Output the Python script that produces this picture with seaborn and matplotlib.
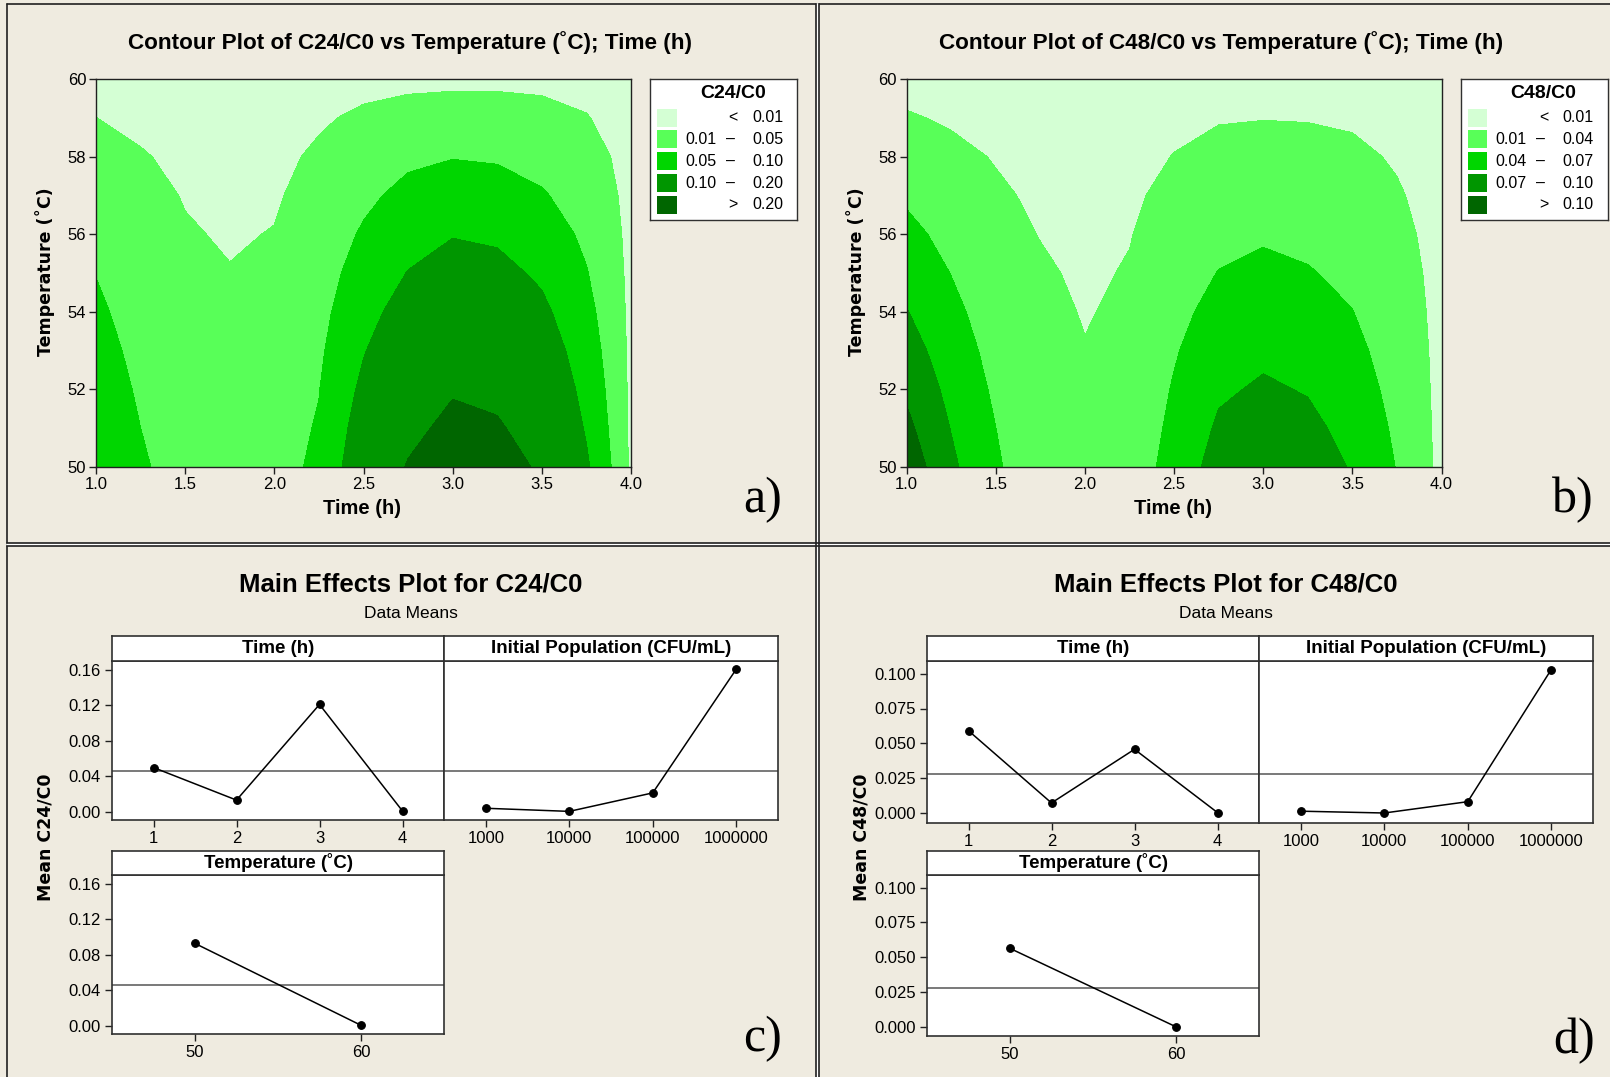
import numpy as np
import pandas as pd
import matplotlib
matplotlib.use("Agg")
import matplotlib.pyplot as plt
import seaborn as sns
from matplotlib.patches import Rectangle
from matplotlib.lines import Line2D
from matplotlib.ticker import FormatStrFormatter, FixedLocator

# ---------------- data ----------------
TIME_GRID = [1.0, 1.25, 1.5, 1.75, 2.0, 2.25, 2.5, 2.75, 3.0, 3.25, 3.5, 3.75, 4.0]
TEMP_GRID = [50, 51, 52, 53, 54, 55, 56, 57, 58, 59, 60]

# estimated response surface, one row per time value (temperatures 50..60)
C24_GRID = [
    [0.090, 0.0818, 0.0737, 0.0655, 0.0573, 0.0490, 0.0393, 0.0295, 0.0198, 0.0101, 0.004],
    [0.056, 0.0501, 0.0445, 0.0390, 0.0334, 0.0279, 0.0224, 0.0169, 0.0114, 0.0059, 0.003],
    [0.030, 0.0270, 0.0240, 0.0209, 0.0179, 0.0148, 0.0118, 0.0088, 0.0060, 0.0040, 0.002],
    [0.025, 0.0222, 0.0193, 0.0165, 0.0136, 0.0108, 0.0080, 0.0060, 0.0040, 0.0030, 0.002],
    [0.035, 0.0310, 0.0269, 0.0229, 0.0189, 0.0148, 0.0108, 0.0075, 0.0050, 0.0030, 0.002],
    [0.058, 0.0536, 0.0488, 0.0429, 0.0370, 0.0310, 0.0251, 0.0192, 0.0133, 0.0073, 0.003],
    [0.139, 0.1250, 0.1110, 0.0972, 0.0830, 0.0690, 0.0549, 0.0411, 0.0275, 0.0138, 0.003],
    [0.205, 0.1820, 0.1620, 0.1420, 0.1217, 0.1016, 0.0818, 0.0619, 0.0417, 0.0208, 0.003],
    [0.240, 0.2180, 0.1940, 0.1700, 0.1460, 0.1217, 0.0975, 0.0729, 0.0483, 0.0230, 0.004],
    [0.231, 0.2076, 0.1845, 0.1613, 0.1382, 0.1150, 0.0919, 0.0686, 0.0454, 0.0226, 0.004],
    [0.190, 0.1700, 0.1505, 0.1307, 0.1109, 0.0915, 0.0726, 0.0538, 0.0358, 0.0180, 0.004],
    [0.108, 0.0947, 0.0840, 0.0734, 0.0628, 0.0521, 0.0418, 0.0315, 0.0213, 0.0110, 0.003],
    [0.0037, 0.0033, 0.0030, 0.0027, 0.0023, 0.0020, 0.0017, 0.0012, 0.0005, 0.0003, 0.0002],
]
C48_GRID = [
    [0.119, 0.1070, 0.0952, 0.0832, 0.0712, 0.0594, 0.0477, 0.0358, 0.0239, 0.0120, 0.002],
    [0.076, 0.0690, 0.0616, 0.0542, 0.0468, 0.0394, 0.0314, 0.0234, 0.0154, 0.0074, 0.002],
    [0.0415, 0.0401, 0.0355, 0.0310, 0.0266, 0.0221, 0.0176, 0.0131, 0.0087, 0.0050, 0.002],
    [0.032, 0.0282, 0.0244, 0.0206, 0.0168, 0.0130, 0.0093, 0.0065, 0.0045, 0.0030, 0.002],
    [0.025, 0.0205, 0.0160, 0.0110, 0.0085, 0.0065, 0.0050, 0.0040, 0.0030, 0.0020, 0.0015],
    [0.025, 0.0223, 0.0196, 0.0170, 0.0143, 0.0116, 0.0090, 0.0065, 0.0045, 0.0030, 0.002],
    [0.050, 0.0461, 0.0422, 0.0376, 0.0322, 0.0268, 0.0214, 0.0160, 0.0105, 0.0060, 0.003],
    [0.083, 0.0742, 0.0658, 0.0575, 0.0492, 0.0408, 0.0327, 0.0247, 0.0166, 0.0085, 0.003],
    [0.092, 0.0829, 0.0737, 0.0645, 0.0553, 0.0461, 0.0369, 0.0277, 0.0186, 0.0094, 0.003],
    [0.0859, 0.0771, 0.0682, 0.0594, 0.0506, 0.0418, 0.0335, 0.0254, 0.0172, 0.0090, 0.003],
    [0.0678, 0.0610, 0.0542, 0.0473, 0.0405, 0.0339, 0.0273, 0.0206, 0.0140, 0.0075, 0.003],
    [0.0388, 0.0350, 0.0311, 0.0273, 0.0234, 0.0196, 0.0158, 0.0119, 0.0080, 0.0050, 0.002],
    [0.0028, 0.0028, 0.0028, 0.0030, 0.0030, 0.0030, 0.0025, 0.0020, 0.0015, 0.0010, 0.001],
]
C24_LEVELS = [0.01, 0.05, 0.10, 0.20]
C48_LEVELS = [0.01, 0.04, 0.07, 0.10]
LEVEL_COLORS = ["#D4FFD4", "#58FF58", "#00D600", "#009600", "#006600"]

TIME_LEVELS = ["1", "2", "3", "4"]
POP_LEVELS = ["1000", "10000", "100000", "1000000"]
TEMP_LEVELS = ["50", "60"]

C24_TIME_MEANS = [0.0497, 0.0131, 0.1207, 0.0008]
C24_POP_MEANS = [0.0039, 0.0004, 0.0212, 0.1604]
C24_TEMP_MEANS = [0.0926, 0.0005]
C24_GRAND_MEAN = 0.0458

C48_TIME_MEANS = [0.0591, 0.0074, 0.0458, 0.0005]
C48_POP_MEANS = [0.0015, 0.0002, 0.0083, 0.1029]
C48_TEMP_MEANS = [0.0563, 0.0000]
C48_GRAND_MEAN = 0.0282

# ---------------- style ----------------
sns.set_theme(style="ticks")
plt.rcParams["font.family"] = ["Liberation Sans", "DejaVu Sans"]
plt.rcParams["axes.unicode_minus"] = False
plt.rcParams["text.color"] = "black"
plt.rcParams["axes.labelcolor"] = "black"
plt.rcParams["xtick.color"] = "black"
plt.rcParams["ytick.color"] = "black"

W, H = 1610, 1077
BG = "#EFEBE0"
DARK = "#202020"
SANS = ["Liberation Sans", "DejaVu Sans"]
WIDE = ["DejaVu Sans"]
SERIF = ["Liberation Serif", "DejaVu Serif"]

fig = plt.figure(figsize=(W / 100, H / 100), dpi=100)
fig.patch.set_facecolor(BG)


def box(x0, y0, x1, y1):
    return [x0 / W, 1 - y1 / H, (x1 - x0) / W, (y1 - y0) / H]


def ftext(x, y, s, **kw):
    fig.text(x / W, 1 - y / H, s, color="black", **kw)


# ---------------- contour panels ----------------
def contour_panel(dx, grid, levels, name):
    ax = fig.add_axes(box(96 + dx, 79, 631 + dx, 467))
    Z = np.array(grid).T
    bounds = [-1.0] + levels + [10.0]
    ax.contourf(TIME_GRID, TEMP_GRID, Z, levels=bounds, colors=LEVEL_COLORS)
    ax.set_xlim(1.0, 4.0)
    ax.set_ylim(50, 60)
    ax.set_xticks([1.0, 1.5, 2.0, 2.5, 3.0, 3.5, 4.0])
    ax.set_yticks([50, 52, 54, 56, 58, 60])
    ax.xaxis.set_major_formatter(FormatStrFormatter("%.1f"))
    ax.tick_params(direction="out", length=5, width=1, color=DARK,
                   labelsize=12, labelcolor="black", pad=2)
    for s in ax.spines.values():
        s.set_visible(True)
        s.set_color(DARK)
        s.set_linewidth(1.0)
    ax.set_xlabel("")
    ax.set_ylabel("")
    ftext(410 + dx, 43,
          f"Contour Plot of {name} vs Temperature (˚C); Time (h)",
          ha="center", va="center", fontsize=16.2, fontweight="bold", family=SANS)
    ftext(45 + dx, 272, "Temperature (˚C)", rotation=90, ha="center", va="center",
          fontsize=12.5, fontweight="bold", family=WIDE)
    ftext(362 + dx, 509, "Time (h)", ha="center", va="center",
          fontsize=14.5, fontweight="bold", family=SANS)

    # legend box
    lx = 650 + dx
    lg = fig.add_axes(box(lx, 79, lx + 147, 220))
    lg.set_xlim(0, 147)
    lg.set_ylim(141, 0)
    lg.set_facecolor("white")
    lg.set_xticks([])
    lg.set_yticks([])
    for s in lg.spines.values():
        s.set_visible(True)
        s.set_color("#303030")
        s.set_linewidth(1.0)
    lg.text(83, 15, name, ha="center", va="center", fontsize=14, fontweight="bold",
            family=SANS, color="black")
    labels_lo = ["", f"{levels[0]:.2f}", f"{levels[1]:.2f}", f"{levels[2]:.2f}", ""]
    labels_hi = [f"{levels[0]:.2f}", f"{levels[1]:.2f}", f"{levels[2]:.2f}", f"{levels[3]:.2f}", f"{levels[3]:.2f}"]
    mids = ["<", "–", "–", "–", ">"]
    for i, col in enumerate(LEVEL_COLORS):
        yc = 38.7 + i * 21.8
        lg.add_patch(Rectangle((7, yc - 9), 19.5, 18, facecolor=col, edgecolor="none"))
        if labels_lo[i]:
            lg.text(66, yc, labels_lo[i], ha="right", va="center", fontsize=11.5,
                    family=SANS, color="black")
        lg.text(80 if mids[i] == "–" else 83, yc, mids[i], ha="center", va="center",
                fontsize=11.5, family=SANS, color="black")
        lg.text(133, yc, labels_hi[i], ha="right", va="center", fontsize=11.5,
                family=SANS, color="black")
    return ax


contour_panel(0, C24_GRID, C24_LEVELS, "C24/C0")
contour_panel(810.6, C48_GRID, C48_LEVELS, "C48/C0")

# ---------------- main effects panels ----------------
def style_me_axis(ax, ylim, yticks, fmt, show_y):
    ax.set_facecolor("white")
    ax.set_xlabel("")
    ax.set_ylabel("")
    ax.set_ylim(*ylim)
    ax.yaxis.set_major_locator(FixedLocator(yticks))
    ax.yaxis.set_major_formatter(FormatStrFormatter(fmt))
    ax.tick_params(direction="out", length=5, width=1, color=DARK, labelsize=12,
                   labelcolor="black", pad=3)
    if not show_y:
        ax.tick_params(axis="y", left=False, labelleft=False)
    for s in ax.spines.values():
        s.set_visible(True)
        s.set_color("#303030")
        s.set_linewidth(1.2)


def strip(x0, y0, x1, y1, label):
    st = fig.add_axes(box(x0, y0, x1, y1))
    st.set_facecolor("white")
    st.set_xticks([])
    st.set_yticks([])
    for s in st.spines.values():
        s.set_visible(True)
        s.set_color("#303030")
        s.set_linewidth(1.2)
    st.text(0.5, 0.5, label, transform=st.transAxes, ha="center", va="center",
            fontsize=13.5, fontweight="bold", family=SANS, color="black")


def effect(ax, levels, means, grand):
    df = pd.DataFrame({"level": levels, "mean": means})
    sns.pointplot(data=df, x="level", y="mean", ax=ax, color="black",
                  errorbar=None, markers="o", markersize=5.5, linewidth=1.1)
    ax.axhline(grand, color="#6E6E6E", lw=1.3, zorder=1)
    ax.set_xlim(-0.5, len(levels) - 0.5)


def main_effects(dx, name, tm, pm, tem, grand, ylim, yticks, fmt, bot1, bot2):
    x0, xm, x1 = 112 + dx, 444 + dx, 778 + dx
    ax_t = fig.add_axes(box(x0, 661, xm, bot1))
    effect(ax_t, TIME_LEVELS, tm, grand)
    style_me_axis(ax_t, ylim, yticks, fmt, True)
    strip(x0, 636, xm, 661, "Time (h)")

    ax_p = fig.add_axes(box(xm, 661, x1, bot1))
    effect(ax_p, POP_LEVELS, pm, grand)
    style_me_axis(ax_p, ylim, yticks, fmt, False)
    strip(xm, 636, x1, 661, "Initial Population (CFU/mL)")

    ax_c = fig.add_axes(box(x0, 875, xm, bot2))
    effect(ax_c, TEMP_LEVELS, tem, grand)
    style_me_axis(ax_c, ylim, yticks, fmt, True)
    strip(x0, 851, xm, 875, "Temperature (˚C)")

    cx = (x0 + x1) / 2
    ftext(cx - 34, 584, f"Main Effects Plot for {name}", ha="center", va="center",
          fontsize=18.5, fontweight="bold", family=SANS)
    ftext(cx - 34, 613, "Data Means", ha="center", va="center", fontsize=12.5, family=SANS)
    ftext(46 + dx, 837, f"Mean {name}", rotation=90, ha="center", va="center",
          fontsize=12.5, fontweight="bold", family=WIDE)


main_effects(0, "C24/C0", C24_TIME_MEANS, C24_POP_MEANS, C24_TEMP_MEANS, C24_GRAND_MEAN,
             (-0.0093, 0.1696), [0.0, 0.04, 0.08, 0.12, 0.16], "%.2f", 820, 1034)
main_effects(815, "C48/C0", C48_TIME_MEANS, C48_POP_MEANS, C48_TEMP_MEANS, C48_GRAND_MEAN,
             (-0.0066, 0.109), [0.0, 0.025, 0.05, 0.075, 0.1], "%.3f", 822.5, 1036)

# ---------------- panel letters ----------------
for (x, y, s) in [(763, 500, "a)"), (1573, 500, "b)"), (763, 1039, "c)"), (1574, 1041, "d)")]:
    ftext(x, y, s, ha="center", va="center", fontsize=36, family=SERIF)

# ---------------- quadrant frames ----------------
def hline(y, x0, x1, color=DARK, lw=1.2):
    fig.add_artist(Line2D([x0 / W, x1 / W], [1 - y / H, 1 - y / H], color=color, lw=lw))


def vline(x, y0, y1, color=DARK, lw=1.2):
    fig.add_artist(Line2D([x / W, x / W], [1 - y0 / H, 1 - y1 / H], color=color, lw=lw))


hline(4, 7, W)
vline(7, 4, H)
hline(544, 7, W, color="white", lw=2.0)
vline(817, 4, H, color="white", lw=2.0)
hline(542.5, 7, W)
hline(545.5, 7, W)
vline(815.5, 4, H)
vline(818.5, 4, H)

fig.savefig("out.png", dpi=100, facecolor=BG)
